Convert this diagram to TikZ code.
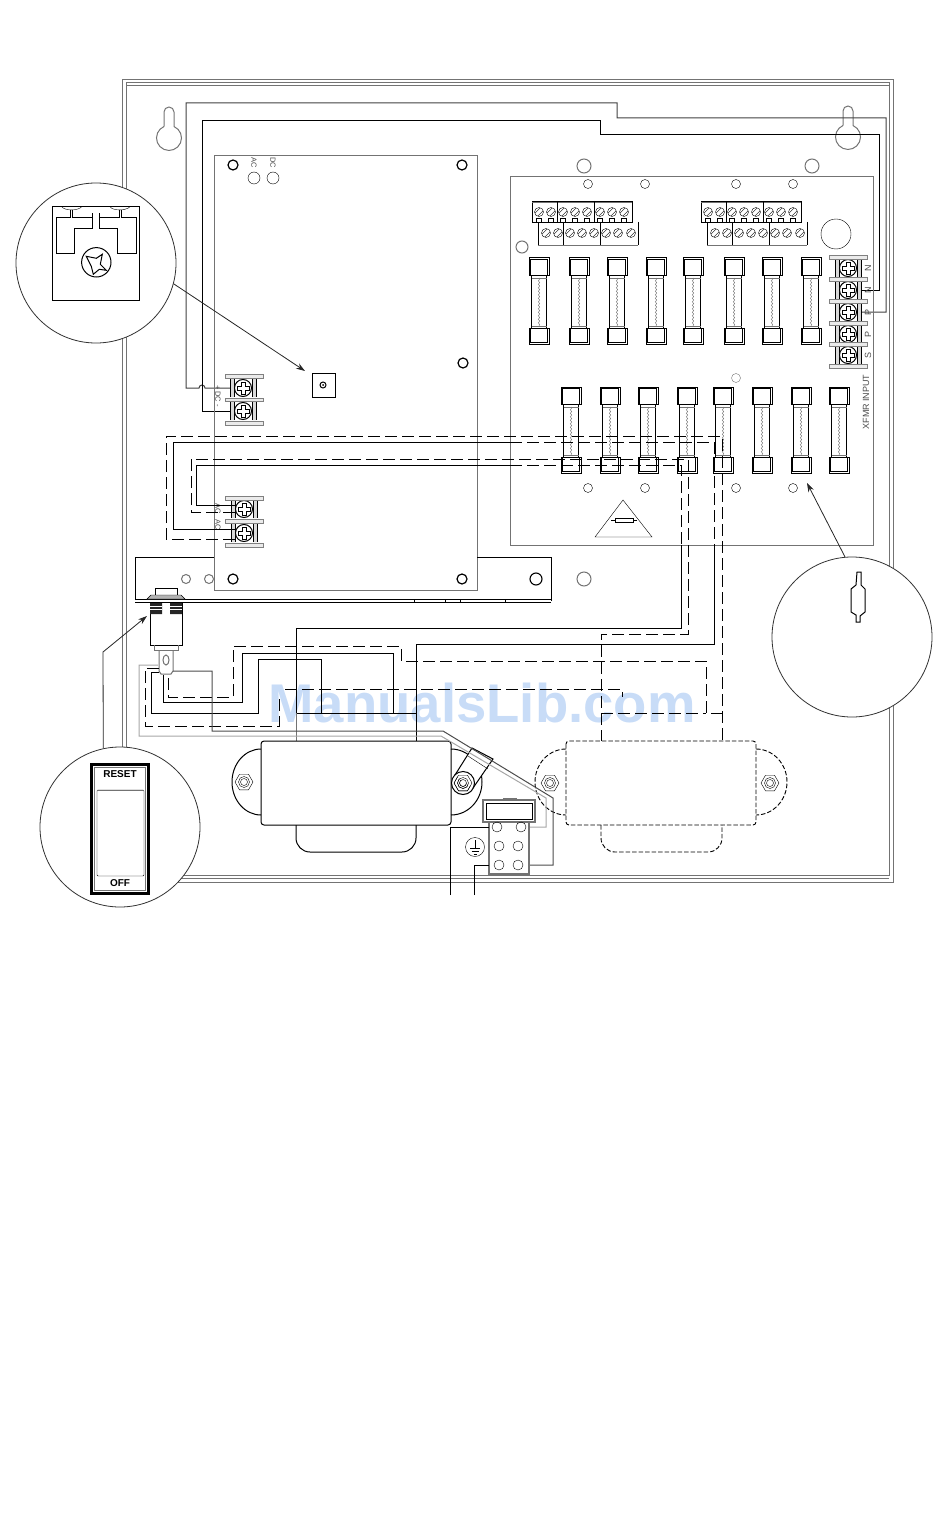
\documentclass[tikz,border=0pt]{standalone}
\usepackage{fontspec}
\setmainfont{Liberation Sans}
\usetikzlibrary{arrows.meta,decorations.pathmorphing}

\tikzset{
	keyhole/.pic={
		\draw[gl] (-5,-11.5) -- (-5,-26) arc (180:360:5) -- (5,-11.5) arc (-66.4:246.4:12.5);
	},
	fuse/.pic={
		\draw[bk] (-10,0) rectangle (10,17);
		\draw[bk,thin] (-8.5,1.5) rectangle (8.5,17);
		\draw[bk] (-7.5,17) -- (-7.5,70) (7.5,17) -- (7.5,70);
		\draw[gl,thin] (-7.5,20) -- (7.5,20) (-7.5,68) -- (7.5,68);
		\draw[black!55,thin,decorate,decoration={snake,amplitude=.8pt,segment length=3.5pt}] (0,20) -- (0,68);
		\draw[bk] (-10,70) rectangle (10,86);
		\draw[bk,thin] (-8.5,70) rectangle (8.5,84.5);
	},
	term/.pic={
		\fill[black!15] (-13,-9) rectangle (-9,9) (9,-9) rectangle (13,9);
		\draw[bk,thin] (-13,-9) -- (-13,9) (-9,-9) -- (-9,9) (9,-9) -- (9,9) (13,-9) -- (13,9);
		\draw[bk,fill=white] (0,0) circle (8.5);
		\draw[bk,thin,fill=white] (-2,-6) -- (2,-6) -- (2,-2) -- (6,-2) -- (6,2) -- (2,2) -- (2,6) -- (-2,6) -- (-2,2) -- (-6,2) -- (-6,-2) -- (-2,-2) -- cycle;
	},
	bar/.pic={
		\draw[black!50,fill=black!8] (-19,-1.8) rectangle (19,1.8);
	},
	slot/.pic={
		\draw[bk,thin] (0,0) circle (4.5);
		\draw[bk,thin] (-3.8,1) -- (1,-3.8) (-1,3.8) -- (3.8,-1);
	},
	termrow/.pic={
		\draw[bk,thin] (532,222) -- (532,201) -- (632,201) -- (632,222) -- (532,222);
		\draw[gl,thick] (532,202) -- (632,202);
		\draw[bk,thin] (557,201) -- (557,222) (594,201) -- (594,222);
		\draw[bk,thin] (538,245) -- (538,222) (638,222) -- (638,245) (563,222) -- (563,245) (600,222) -- (600,245);
		\draw[gl,thick] (538,245) -- (638,245);
		\foreach \sx in {539,551,563,575,587,600,612,624} {
			\pic at (\sx,212) {slot};
			\draw[bk,thin] (\sx-2.5,218) rectangle (\sx+2.5,222);
		}
		\foreach \sx in {546,558,570,582,594,606,618,631}
			\pic at (\sx,233) {slot};
	},
	nut/.pic={
		\draw[pic actions] (0:9) -- (60:9) -- (120:9) -- (180:9) -- (240:9) -- (300:9) -- cycle;
		\draw[pic actions] (0,0) circle (5.5) (0,0) circle (3.5);
	}
}

\begin{document}
\begin{tikzpicture}
		[x=1pt,y=-1pt,line cap=butt,
		bk/.style={draw=black,line width=1pt},
		gl/.style={draw=black!55,line width=1pt},
		lg/.style={draw=black!35,line width=1pt},
		hid/.style={draw=black,line width=1pt,dash pattern=on 12pt off 5pt},
		hd/.style={draw=black,line width=.9pt,dash pattern=on 4.5pt off 2pt},
		callout/.style={circle,draw=black!80,line width=.8pt,minimum size=160pt,inner sep=0pt,fill=white},
		lbl/.style={font=\fontsize{7.5}{8}\selectfont,text=black!70,inner sep=0pt},
		arr/.style={-{Stealth[length=9pt,width=6pt]},draw=black!85,line width=.8pt}]

	\useasboundingbox (0,0) rectangle (950,1514);

	\definecolor{markblue}{RGB}{200,220,247}
	\node[inner sep=0pt,text=markblue,font=\bfseries\fontsize{54.5}{60}\selectfont] (mark) at (482,703) {ManualsLib.com};

	% cabinet
	\draw[gl] (122,80) rectangle (893,882);
	\draw[gl] (126,83) rectangle (889,875);
	\draw[gl] (126,86) -- (889,86) (126,878) -- (889,878);
	\pic at (169,138) {keyhole};
	\pic at (848,137) {keyhole};

	% wires from the power board to the input strip
	\coordinate (dcp) at (236,388);
	\coordinate (dcm) at (236,411);
	\coordinate (inn) at (856,290.5);
	\coordinate (inp) at (856,312);
	\draw[draw=black!75,line width=1pt] (dcp) -- (205,388) arc (0:-180:3) -- (186,388) -- (186,103) -- (617,103) -- (617,118) -- (886,118) -- (886,312) -- (inp);
	\draw[bk] (dcm) -- (202,411) -- (202,121) -- (600,121) -- (600,135) -- (879,135) -- (879,290.5) -- (inn);

	% power board
	\draw[gl] (214,156) rectangle (477,590);
	\foreach \hx/\hy in {233/165,462/165,463/363,233/579,462/579}
		\draw[bk,line width=1.2pt] (\hx,\hy) circle (5);
	\draw[bk,thin] (254,178) circle (6) (273,178) circle (6);
	\node[lbl,rotate=-90] (acl) at (254,163) {AC};
	\node[lbl,rotate=-90] (dcl) at (273,163) {DC};
	\node[lbl,rotate=-90] (dcs) at (218,396) {+ DC -};
	\node[lbl,rotate=-90] (ac1) at (218,509) {AC};
	\node[lbl,rotate=-90] (ac2) at (218,525) {AC};
	\draw[bk] (312,373) rectangle (335,397);
	\draw[bk] (323,385) circle (3);
	\fill (323,385) circle (1);
	\foreach \ty in {388,411} \pic at (243,\ty) {term};
	\foreach \ty in {376,399.5,423} \pic at (244,\ty) {bar};
	\foreach \ty in {509,533} \pic at (244,\ty) {term};
	\foreach \ty in {498,521,545} \pic at (244,\ty) {bar};

	% fuse board
	\draw[gl] (510,177) rectangle (873,545);
	\foreach \hx in {588,645,736,793} {
		\draw[bk,thin] (\hx,184) circle (4.5);
		\draw[bk,thin] (\hx,488) circle (4.5);
	}
	\draw[gl,thin] (736,378) circle (4.5);
	\draw[gl] (584,166) circle (7) (812,166) circle (7) (584,579) circle (7);
	\draw[gl] (522,247) circle (6);
	\draw[bk,thin] (836,234) circle (15);
	\pic at (0,0) {termrow};
	\pic at (169,0) {termrow};
	\foreach \fx in {539,579,617,656,693,734,772,811} \pic at (\fx,258) {fuse};
	\foreach \fx in {571,610,648,687,723,762,801,839} \pic at (\fx,387) {fuse};
	\draw[bk,thin] (595,537) -- (652,537) -- (623,500) -- cycle;
	\draw[bk] (615,518) rectangle (633,522);
	\draw[bk,thin] (611,520) -- (615,520) (633,520) -- (637,520);

	% input strip
	\foreach \ty/\tl in {268/N,290/N,312/P,334/P,355/S} {
		\pic at (848,\ty) {term};
		\node[lbl,rotate=90,font=\fontsize{9}{10}\selectfont] at (868,\ty) {\tl};
	}
	\foreach \ty in {257,279,301,323,344,366} \pic at (848,\ty) {bar};
	\node[lbl,rotate=90,font=\fontsize{9}{10}\selectfont] (xfmr) at (866,402) {XFMR INPUT};

	% low voltage wires
	\coordinate (aca) at (236,505);
	\coordinate (acb) at (236,529);
	\draw[bk] (aca) -- (196,505) -- (196,465) -- (510,465);
	\draw[bk] (acb) -- (173,529) -- (173,442) -- (510,442);
	\draw[hid] (510,465) -- (681,465) -- (681,545);
	\draw[hid] (510,442) -- (714,442) -- (714,545);
	\draw[bk] (681,545) -- (681,628) -- (296,628) -- (296,713);
	\draw[bk] (714,545) -- (714,644) -- (416,644) -- (416,741);
	\draw[hid] (235,512) -- (191,512) -- (191,459) -- (688,459) -- (688,634) -- (601,634) -- (601,741);
	\draw[hid] (235,539) -- (166,539) -- (166,436) -- (722,436) -- (722,741);

	% bracket and breaker
	\draw[bk] (135,600) -- (135,557) -- (214,557) (477,557) -- (551,557) -- (551,601);
	\draw[bk] (135,599) -- (551,599) (135,602.5) -- (551,602.5);
	\foreach \tx in {414,445,460,505} \draw[bk,thin] (\tx,599) -- (\tx,602.5);
	\draw[gl] (186,579) circle (4.5) (209,579) circle (4.5);
	\draw[bk,line width=1.1pt] (536,579) circle (6);
	\draw[bk,thin] (155,595) -- (155,588) -- (177,588) -- (177,595);
	\draw[bk,thin,fill=black!30] (147,599) -- (151,595) -- (181,595) -- (185,599) -- cycle;
	\draw[bk] (150,603) -- (150,645) -- (182,645) -- (182,603);
	\fill[black!85] (150,603) rectangle (162,614) (170,603) rectangle (182,614);
	\draw[white,thin] (150,606) -- (162,606) (150,609.5) -- (162,609.5) (170,606) -- (182,606) (170,609.5) -- (182,609.5);
	\draw[gl] (154,645) -- (154,650) -- (178,650) -- (178,645);
	\draw[gl] (159,650) -- (159,671) -- (161,674) -- (171,674) -- (173,671) -- (173,650);
	\draw[gl] (166,660) ellipse (3 and 5);

	% breaker wires
	\draw[bk] (163,675) -- (163,702) -- (242,702) -- (242,653) -- (393,653) -- (393,713);
	\draw[bk] (159,672) -- (151,672) -- (151,713) -- (258,713) -- (258,659) -- (321,659) -- (321,713);
	\draw[bk,thin] (296,713) -- (416,713);
	\draw[gl] (296,713) -- (296,741);
	\draw[hid] (168,678) -- (168,697) -- (233,697) -- (233,646) -- (401,646) -- (401,661) -- (706,661) -- (706,713) -- (722,713);
	\draw[hid] (159,668) -- (145,668) -- (145,726) -- (279,726) -- (279,695);
	\draw[hid] (285,689) -- (622,689) -- (622,697);
	\draw[hid] (601,713) -- (706,713);

	% transformers
	\draw[bk,rounded corners=3pt] (261,741) rectangle (451,825);
	\draw[bk] (261,749) arc (-90:-270:29 and 33);
	\draw[bk] (451,749) arc (-90:90:31 and 33);
	\draw[bk,rounded corners=14pt] (296,825) -- (296,852) -- (416,852) -- (416,825);
	\pic[bk,thin] at (244,782) {nut};
	\pic[bk,thin] at (463,783) {nut};
	\draw[bk,fill=white] (455,775) -- (472,748) -- (493,759) -- (473,788);
	\draw[bk,thin] (468,756) -- (488,769);
	\draw[bk] (463,783) circle (11.5);
	\pic[bk,thin] at (463,783) {nut};

	\draw[hd,rounded corners=3pt] (566,741) rectangle (756,825);
	\draw[hd] (566,749) arc (-90:-270:31 and 33);
	\draw[hd] (756,749) arc (-90:90:31 and 33);
	\draw[hd,rounded corners=14pt] (601,825) -- (601,852) -- (722,852) -- (722,825);
	\pic[bk,thin] at (550,783) {nut};
	\pic[bk,thin] at (770,783) {nut};

	% earth block
	\coordinate (ea) at (489,827);
	\coordinate (eb) at (489,865);
	\coordinate (ec) at (530,827);
	\coordinate (ed) at (530,865);
	\draw[gl,line width=1.2pt] (483,800) rectangle (535,822);
	\draw[bk,thin] (486,803) rectangle (532,819);
	\draw[gl] (503,798) rectangle (516,800);
	\draw[gl,line width=1.2pt] (489,822) rectangle (529,874);
	\foreach \hx/\hy in {497/827,521/827,499/846,518/846,499/865,518/865}
		\draw[bk,thin] (\hx,\hy) circle (5);
	\draw[bk,thin] (475,847) circle (9.5);
	\draw[bk,thin] (475,840) -- (475,848) (470,848) -- (480,848) (471.5,851) -- (478.5,851) (473.5,854) -- (476.5,854);
	\draw[bk] (450,895) -- (450,827) -- (ea);
	\draw[bk] (474,895) -- (474,865) -- (eb);
	\draw[draw=black!70,line width=1pt] (173,671) -- (212,671) -- (212,731) -- (443,731) -- (553,798) -- (553,865) -- (ed);
	\draw[lg] (158,665) -- (139,665) -- (139,736) -- (441,736) -- (546,798) -- (546,827) -- (ec);

	% callouts
	\node[callout] (lock) at (96,263) {};
	\draw[bk] (52.7,206.7) rectangle (139.3,300);
	\draw[bk,thin] (61.7,206.7) .. controls (65,211) and (78,211) .. (81.7,206.7);
	\draw[bk,thin] (110,206.7) .. controls (113,211) and (126,211) .. (130,206.7);
	\draw[bk] (70.7,210) -- (70.7,217.3) -- (56,217.3) -- (56,253.3) -- (74,253.3) -- (74,228.3) -- (92,228.3) -- (92,213.3);
	\draw[bk] (72.7,210) -- (72.7,217.3) -- (92,217.3);
	\draw[bk] (121,210) -- (121,217.3) -- (136,217.3) -- (136,253.3) -- (117.3,253.3) -- (117.3,228.3) -- (99.3,228.3) -- (99.3,213.3);
	\draw[bk] (119,210) -- (119,217.3) -- (99.3,217.3);
	\draw[bk] (96.3,262.3) circle (14.7);
	\draw[bk] (86.3,256.3) -- (96.3,258.3) -- (102.3,254.3) -- (100.3,264.3) -- (106.3,270.3) -- (99.3,269.3) -- (93.3,274.3) -- (91.3,266.3) -- cycle;
	\coordinate (lockpt) at (305,371);
	\draw[arr] (lock.-15) -- (lockpt);

	\node[callout] (clip) at (852,637) {};
	\draw[bk] (857,572) -- (861,572) -- (861,585) -- (865,589) -- (865,612) -- (860,616) -- (860,622) -- (856,622) -- (856,615) -- (851,612) -- (851,589) -- (856,585) -- cycle;
	\coordinate (clippt) at (807,483);
	\draw[arr] (clip.95) -- (clippt);

	\node[callout] (rocker) at (120,827) {};
	\draw[draw=black,line width=3pt] (91.5,764.5) rectangle (148.5,893.5);
	\draw[gl,thin] (94.5,767.5) rectangle (145.5,890.5);
	\draw[bk,thin,rounded corners=1pt] (97,790) rectangle (144,876);
	\draw[gl] (97,790) -- (144,790);
	\node[inner sep=0pt,font=\bfseries\fontsize{10}{12}\selectfont] (rst) at (120,774) {RESET};
	\node[inner sep=0pt,font=\bfseries\fontsize{10}{12}\selectfont] (off) at (120,883) {OFF};
	\coordinate (rockerpt) at (147,616);
	\draw[arr] (rocker.102) -- (103,652) -- (rockerpt);
\end{tikzpicture}
\end{document}
